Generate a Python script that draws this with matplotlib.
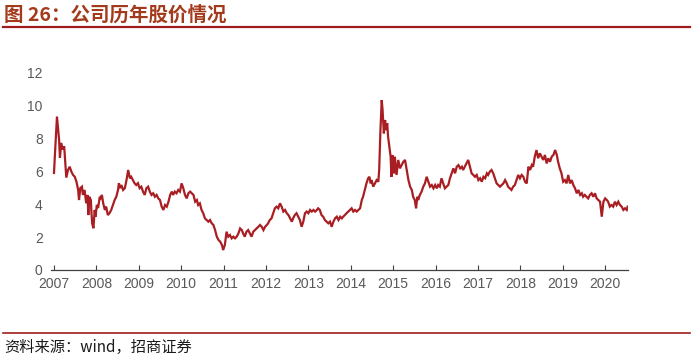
import matplotlib
matplotlib.use("Agg")
import matplotlib.pyplot as plt
from matplotlib.lines import Line2D

plt.rcParams['font.family'] = ['Liberation Sans', 'Noto Sans CJK SC', 'DejaVu Sans']

# ---------------- DATA ----------------
years = [
    2007.00, 2007.02, 2007.07, 2007.12, 2007.14, 2007.17, 2007.21, 2007.24, 2007.27, 2007.29,
    2007.33, 2007.37, 2007.41, 2007.45, 2007.49, 2007.53, 2007.57, 2007.59, 2007.62, 2007.66,
    2007.68, 2007.72, 2007.76, 2007.79, 2007.81, 2007.83, 2007.87, 2007.88, 2007.90, 2007.93,
    2007.96, 2007.98, 2008.01, 2008.04, 2008.08, 2008.10, 2008.13, 2008.16, 2008.20, 2008.23,
    2008.27, 2008.31, 2008.35, 2008.39, 2008.43, 2008.47, 2008.51, 2008.53, 2008.56, 2008.59,
    2008.63, 2008.67, 2008.71, 2008.75, 2008.79, 2008.82, 2008.86, 2008.90, 2008.94, 2008.98,
    2009.02, 2009.06, 2009.10, 2009.14, 2009.18, 2009.22, 2009.26, 2009.30, 2009.34, 2009.38,
    2009.42, 2009.46, 2009.50, 2009.54, 2009.58, 2009.62, 2009.66, 2009.70, 2009.74, 2009.78,
    2009.81, 2009.85, 2009.89, 2009.93, 2009.97, 2010.01, 2010.05, 2010.09, 2010.13, 2010.17,
    2010.21, 2010.25, 2010.29, 2010.33, 2010.37, 2010.40, 2010.44, 2010.48, 2010.52, 2010.56,
    2010.60, 2010.64, 2010.68, 2010.72, 2010.76, 2010.80, 2010.84, 2010.88, 2010.92, 2010.96,
    2010.99, 2011.03, 2011.07, 2011.11, 2011.15, 2011.19, 2011.23, 2011.27, 2011.31, 2011.35,
    2011.39, 2011.43, 2011.46, 2011.50, 2011.54, 2011.58, 2011.62, 2011.66, 2011.70, 2011.74,
    2011.78, 2011.82, 2011.86, 2011.90, 2011.94, 2011.98, 2012.02, 2012.05, 2012.09, 2012.13,
    2012.17, 2012.21, 2012.25, 2012.29, 2012.33, 2012.37, 2012.41, 2012.45, 2012.49, 2012.53,
    2012.57, 2012.61, 2012.64, 2012.68, 2012.72, 2012.76, 2012.80, 2012.84, 2012.88, 2012.92,
    2012.96, 2013.00, 2013.04, 2013.08, 2013.12, 2013.16, 2013.20, 2013.23, 2013.27, 2013.31,
    2013.35, 2013.39, 2013.43, 2013.47, 2013.51, 2013.55, 2013.59, 2013.63, 2013.67, 2013.71,
    2013.75, 2013.79, 2013.82, 2013.86, 2013.90, 2013.94, 2013.98, 2014.02, 2014.06, 2014.10,
    2014.14, 2014.18, 2014.22, 2014.26, 2014.29, 2014.33, 2014.37, 2014.41, 2014.44, 2014.47,
    2014.49, 2014.53, 2014.57, 2014.61, 2014.65, 2014.67, 2014.70, 2014.73, 2014.75, 2014.78,
    2014.81, 2014.83, 2014.86, 2014.88, 2014.91, 2014.94, 2014.96, 2014.99, 2015.02, 2015.04,
    2015.08, 2015.12, 2015.16, 2015.20, 2015.24, 2015.28, 2015.32, 2015.36, 2015.40, 2015.44,
    2015.47, 2015.51, 2015.54, 2015.57, 2015.59, 2015.63, 2015.67, 2015.71, 2015.75, 2015.79,
    2015.83, 2015.87, 2015.91, 2015.95, 2015.99, 2016.03, 2016.06, 2016.10, 2016.14, 2016.18,
    2016.22, 2016.26, 2016.30, 2016.34, 2016.38, 2016.42, 2016.46, 2016.50, 2016.54, 2016.58,
    2016.62, 2016.65, 2016.69, 2016.73, 2016.77, 2016.81, 2016.85, 2016.89, 2016.93, 2016.97,
    2017.01, 2017.05, 2017.09, 2017.13, 2017.17, 2017.21, 2017.24, 2017.28, 2017.32, 2017.36,
    2017.40, 2017.44, 2017.48, 2017.52, 2017.56, 2017.60, 2017.64, 2017.68, 2017.71, 2017.75,
    2017.79, 2017.83, 2017.87, 2017.91, 2017.95, 2017.99, 2018.03, 2018.07, 2018.11, 2018.15,
    2018.19, 2018.23, 2018.27, 2018.30, 2018.34, 2018.38, 2018.42, 2018.46, 2018.50, 2018.54,
    2018.58, 2018.62, 2018.66, 2018.70, 2018.74, 2018.78, 2018.82, 2018.86, 2018.89, 2018.93,
    2018.97, 2019.01, 2019.05, 2019.09, 2019.13, 2019.17, 2019.21, 2019.25, 2019.29, 2019.33,
    2019.37, 2019.41, 2019.45, 2019.48, 2019.52, 2019.56, 2019.60, 2019.64, 2019.68, 2019.72,
    2019.76, 2019.80, 2019.84, 2019.88, 2019.92, 2019.96, 2020.00, 2020.04, 2020.07, 2020.11,
    2020.15, 2020.19, 2020.23, 2020.27, 2020.31, 2020.35, 2020.39, 2020.43, 2020.47, 2020.51,
    2020.53,
]

prices = [
    5.88, 6.90, 9.30, 7.90, 6.80, 7.70, 7.30, 7.50, 6.30, 5.60,
    6.06, 6.26, 5.96, 5.76, 5.65, 5.35, 4.85, 4.24, 4.96, 5.05,
    4.55, 4.85, 4.05, 4.55, 3.33, 4.44, 4.24, 3.64, 2.83, 2.53,
    3.64, 3.23, 3.94, 3.76, 4.44, 4.36, 4.55, 4.05, 3.64, 3.84,
    3.33, 3.45, 3.64, 3.94, 4.24, 4.44, 4.85, 5.26, 4.96, 5.15,
    4.85, 4.96, 5.45, 6.06, 5.56, 5.65, 5.45, 5.26, 5.15, 5.26,
    4.96, 5.05, 4.75, 4.55, 4.96, 5.05, 4.75, 4.55, 4.65, 4.44,
    4.55, 4.34, 4.24, 3.84, 3.64, 3.94, 3.84, 4.14, 4.55, 4.75,
    4.55, 4.75, 4.65, 4.85, 4.75, 5.25, 4.95, 4.55, 4.34, 4.65,
    4.75, 4.65, 4.55, 4.14, 4.24, 3.94, 4.04, 3.64, 3.44, 3.13,
    3.03, 2.93, 3.03, 2.83, 2.73, 2.42, 2.02, 1.82, 1.72, 1.52,
    1.21, 1.52, 2.32, 2.02, 2.12, 1.92, 2.02, 1.92, 2.02, 2.22,
    2.52, 2.42, 2.22, 2.02, 2.32, 2.42, 2.22, 2.02, 2.32, 2.42,
    2.52, 2.62, 2.73, 2.62, 2.42, 2.62, 2.73, 2.83, 3.03, 3.13,
    3.44, 3.74, 3.84, 3.74, 4.04, 3.84, 3.54, 3.64, 3.44, 3.33,
    3.13, 2.93, 3.13, 3.33, 3.44, 3.23, 3.03, 2.62, 2.93, 3.44,
    3.54, 3.44, 3.64, 3.54, 3.64, 3.54, 3.64, 3.74, 3.64, 3.33,
    3.23, 3.03, 2.93, 2.83, 2.93, 2.62, 2.93, 3.13, 3.23, 3.03,
    3.23, 3.13, 3.23, 3.33, 3.44, 3.54, 3.64, 3.74, 3.54, 3.64,
    3.54, 3.64, 3.74, 4.24, 4.44, 4.85, 5.25, 5.56, 5.65, 5.25,
    5.45, 5.05, 5.25, 5.45, 5.35, 6.06, 8.48, 10.30, 9.70, 8.28,
    9.09, 8.48, 8.89, 8.08, 7.47, 6.87, 5.65, 6.97, 5.86, 6.87,
    5.76, 6.67, 6.16, 6.36, 6.56, 6.67, 6.06, 5.45, 5.05, 4.85,
    4.44, 4.24, 3.74, 4.44, 4.24, 4.55, 4.75, 5.05, 5.25, 5.65,
    5.35, 5.05, 5.15, 4.95, 5.15, 4.95, 5.15, 5.05, 5.56, 5.25,
    4.95, 5.05, 5.15, 5.56, 5.86, 6.16, 5.86, 6.26, 6.36, 6.16,
    6.26, 6.06, 6.26, 6.46, 6.67, 6.26, 5.86, 5.76, 5.65, 5.76,
    5.45, 5.56, 5.35, 5.65, 5.56, 5.86, 5.76, 5.96, 6.06, 5.86,
    5.56, 5.25, 5.15, 5.05, 5.15, 5.25, 5.45, 5.25, 5.05, 4.95,
    4.85, 5.05, 5.15, 5.45, 5.76, 5.56, 5.76, 5.65, 5.35, 5.25,
    6.26, 6.06, 6.36, 6.26, 6.87, 7.27, 6.77, 7.07, 6.87, 6.67,
    6.97, 6.46, 6.77, 6.56, 6.87, 6.97, 7.27, 6.97, 6.56, 6.16,
    5.86, 5.35, 5.45, 5.25, 5.76, 5.25, 5.45, 5.15, 4.95, 4.65,
    4.85, 4.55, 4.65, 4.44, 4.55, 4.44, 4.34, 4.55, 4.65, 4.44,
    4.65, 4.34, 4.24, 4.14, 3.23, 4.14, 4.34, 4.24, 4.14, 3.84,
    3.94, 3.84, 4.14, 3.94, 4.14, 3.94, 3.84, 3.64, 3.74, 3.64,
    3.84,
]

year_ticks = list(range(2007, 2021))
y_ticks = [0, 2, 4, 6, 8, 10, 12]

title = "图 26：公司历年股价情况"
source = "资料来源：wind，招商证券"

RED = "#A81E22"
GRAY = "#595959"

# ---------------- FIGURE ----------------
fig = plt.figure(figsize=(7.0, 3.57), dpi=100)
ax = fig.add_axes([0.0729, 0.2437, 0.8243, 0.5546])

ax.plot(years, prices, color=RED, linewidth=1.6, solid_joinstyle="miter")

ax.set_xlim(2006.93, 2020.54)
ax.set_ylim(0, 12)
ax.set_xticks(year_ticks)
ax.set_xticklabels([str(y) for y in year_ticks])
ax.set_yticks(y_ticks)

for side in ["left", "right", "top"]:
    ax.spines[side].set_visible(False)
ax.spines["bottom"].set_color("#404040")
ax.spines["bottom"].set_linewidth(0.9)

ax.tick_params(axis="x", direction="in", length=3.5, width=0.8, color="#404040",
               labelsize=10, labelcolor=GRAY, pad=5)
ax.tick_params(axis="y", length=0, labelsize=10, labelcolor=GRAY, pad=6)

# title with red rule
fig.text(0.006, 0.958, title, fontsize=14, fontweight="bold", color="#A33A1C",
         family=["Noto Sans CJK SC", "DejaVu Sans"], va="center", ha="left")
fig.add_artist(Line2D([0.004, 0.986], [0.924, 0.924], color="#A01C1C", linewidth=1.6))

# bottom rule + source
fig.add_artist(Line2D([0.004, 0.986], [0.067, 0.067], color="#A01C1C", linewidth=1.2))
fig.text(0.006, 0.028, source, fontsize=11, color="#1a1a1a",
         family=["Noto Sans CJK SC", "DejaVu Sans"], va="center", ha="left")

fig.savefig("out.png", dpi=100)
